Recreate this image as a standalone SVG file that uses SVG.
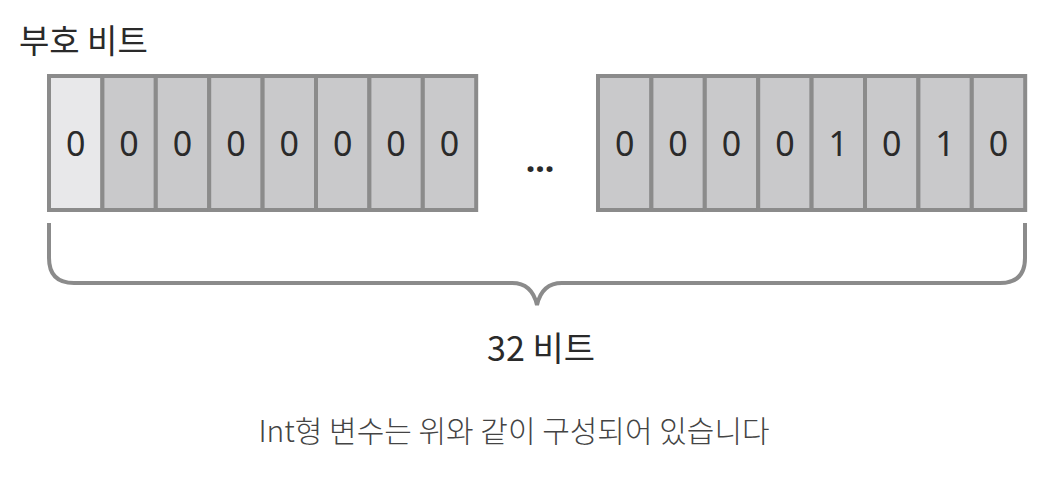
<svg xmlns="http://www.w3.org/2000/svg" width="1056" height="478" viewBox="0 0 1056 478">
<style>
.c{fill:#c9c9cb;stroke:#8b8b8b;stroke-width:4}
.s{fill:#e8e8ea}
.t{font-family:"Noto Sans","Noto Sans CJK KR",sans-serif;font-size:34px;fill:#2a2a2a;text-anchor:middle}
.k{font-family:"Noto Sans CJK KR",sans-serif;fill:#2a2a2a}
</style>
<rect width="1056" height="478" fill="#ffffff"/>
<text class="k" x="19" y="53" font-size="33">부호 비트</text>
<g id="byte1">
<rect class="c s" x="49" y="76" width="53.4" height="134"/>
<rect class="c" x="102.4" y="76" width="53.4" height="134"/>
<rect class="c" x="155.8" y="76" width="53.4" height="134"/>
<rect class="c" x="209.2" y="76" width="53.4" height="134"/>
<rect class="c" x="262.6" y="76" width="53.4" height="134"/>
<rect class="c" x="316" y="76" width="53.4" height="134"/>
<rect class="c" x="369.4" y="76" width="53.4" height="134"/>
<rect class="c" x="422.8" y="76" width="53.4" height="134"/>
<text class="t" x="75.7" y="156">0</text><text class="t" x="129.1" y="156">0</text><text class="t" x="182.5" y="156">0</text><text class="t" x="235.9" y="156">0</text><text class="t" x="289.3" y="156">0</text><text class="t" x="342.7" y="156">0</text><text class="t" x="396.1" y="156">0</text><text class="t" x="449.5" y="156">0</text>
</g>
<g id="dots"><text class="t" x="540" y="172" font-weight="bold" font-size="32">...</text></g>
<g id="byte4">
<rect class="c" x="598" y="76" width="53.4" height="134"/>
<rect class="c" x="651.4" y="76" width="53.4" height="134"/>
<rect class="c" x="704.8" y="76" width="53.4" height="134"/>
<rect class="c" x="758.2" y="76" width="53.4" height="134"/>
<rect class="c" x="811.6" y="76" width="53.4" height="134"/>
<rect class="c" x="865" y="76" width="53.4" height="134"/>
<rect class="c" x="918.4" y="76" width="53.4" height="134"/>
<rect class="c" x="971.8" y="76" width="53.4" height="134"/>
<text class="t" x="624.7" y="156">0</text><text class="t" x="678.1" y="156">0</text><text class="t" x="731.5" y="156">0</text><text class="t" x="784.9" y="156">0</text><text class="t" x="838.3" y="156">1</text><text class="t" x="891.7" y="156">0</text><text class="t" x="945.1" y="156">1</text><text class="t" x="998.5" y="156">0</text>
</g>
<g id="connectors">
<path d="M49 223 V258 Q49 283 74 283 H512 Q532 283 537 305 Q542 283 562 283 H1000 Q1025 283 1025 258 V223" fill="none" stroke="#8b8b8b" stroke-width="4"/>
</g>
<text class="k" x="541" y="361" font-size="34" text-anchor="middle">32 비트</text>
<text class="k" x="514" y="442" font-size="30" font-weight="300" text-anchor="middle" style="fill:#444">Int형 변수는 위와 같이 구성되어 있습니다</text>
</svg>
